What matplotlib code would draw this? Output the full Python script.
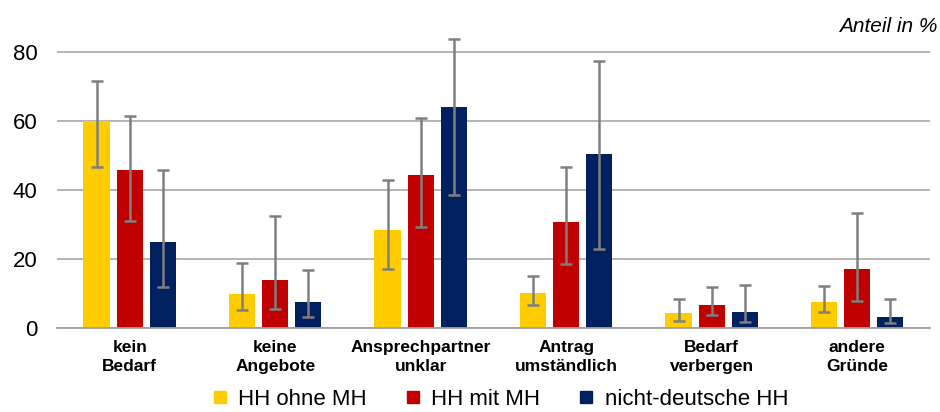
import numpy as np
import matplotlib
matplotlib.use('Agg')
import matplotlib.pyplot as plt
from matplotlib.lines import Line2D

plt.rcParams['font.family'] = ['Liberation Sans', 'DejaVu Sans']

# Kategorien (Gründe)
kategorien = ['kein\nBedarf', 'keine\nAngebote', 'Ansprechpartner\nunklar',
              'Antrag\numständlich', 'Bedarf\nverbergen', 'andere\nGründe']
gruppen = ['HH ohne MH', 'HH mit MH', 'nicht-deutsche HH']
farben = ['#FFCC00', '#C00000', '#002060']

# Anteil in %
ohne_mh = [60.0, 9.8, 28.4, 10.2, 4.2, 7.6]
mit_mh = [45.8, 13.9, 44.4, 30.6, 6.5, 17.2]
nicht_dt = [25.0, 7.6, 64.0, 50.4, 4.6, 3.0]

# Konfidenzintervalle (untere / obere Grenze)
ohne_mh_lo = [46.7, 5.0, 17.2, 6.5, 1.9, 4.6]
ohne_mh_hi = [71.7, 18.8, 42.9, 15.1, 8.4, 12.1]
mit_mh_lo = [31.1, 5.3, 29.4, 18.4, 3.6, 7.9]
mit_mh_hi = [61.5, 32.5, 60.8, 46.7, 11.7, 33.4]
nicht_dt_lo = [11.7, 3.2, 38.5, 22.9, 1.6, 1.3]
nicht_dt_hi = [45.9, 16.9, 83.9, 77.6, 12.5, 8.4]

werte = [ohne_mh, mit_mh, nicht_dt]
untere = [ohne_mh_lo, mit_mh_lo, nicht_dt_lo]
obere = [ohne_mh_hi, mit_mh_hi, nicht_dt_hi]

fig = plt.figure(figsize=(9.4, 4.12), dpi=100)
ax = fig.add_axes([0.0606, 0.2046, 0.9287, 0.735])

x = np.arange(len(kategorien))
breite = 0.18
abstand = 0.228

for i in range(3):
    w = np.array(werte[i])
    err = [w - np.array(untere[i]), np.array(obere[i]) - w]
    ax.bar(x + (i - 1) * abstand, w, breite, color=farben[i], zorder=2)
    ax.errorbar(x + (i - 1) * abstand, w, yerr=err, fmt='none', ecolor='#7F7F7F',
                elinewidth=1.8, capsize=4.3, capthick=1.8, zorder=3)

ax.set_xlim(-0.5, len(kategorien) - 0.5)
ax.set_ylim(0, 88)
ax.set_yticks([0, 20, 40, 60, 80])
ax.yaxis.grid(True, color='#A0A0A0', linewidth=1.1, zorder=0)
ax.set_axisbelow(True)
for s in ['top', 'right', 'left']:
    ax.spines[s].set_visible(False)
ax.spines['bottom'].set_color('#A0A0A0')
ax.spines['bottom'].set_linewidth(1.3)

ax.set_xticks(x)
ax.set_xticklabels(kategorien, fontsize=12.5, fontweight='bold', linespacing=1.3)
ax.tick_params(axis='x', length=0, pad=9)
ax.tick_params(axis='y', length=0, pad=14, labelsize=16)

fig.text(0.997, 0.922, 'Anteil in %', ha='right', va='baseline',
         fontsize=15, style='italic')

handles = [Line2D([0], [0], marker='s', linestyle='none', markersize=8,
                  markerfacecolor=c, markeredgecolor=c) for c in farben]
fig.legend(handles, gruppen, loc='center', bbox_to_anchor=(0.532, 0.03),
           ncol=3, frameon=False, fontsize=16, handlelength=0.7,
           handletextpad=0.5, columnspacing=1.7, borderpad=0)

plt.savefig('out.png', dpi=100)
plt.close()
